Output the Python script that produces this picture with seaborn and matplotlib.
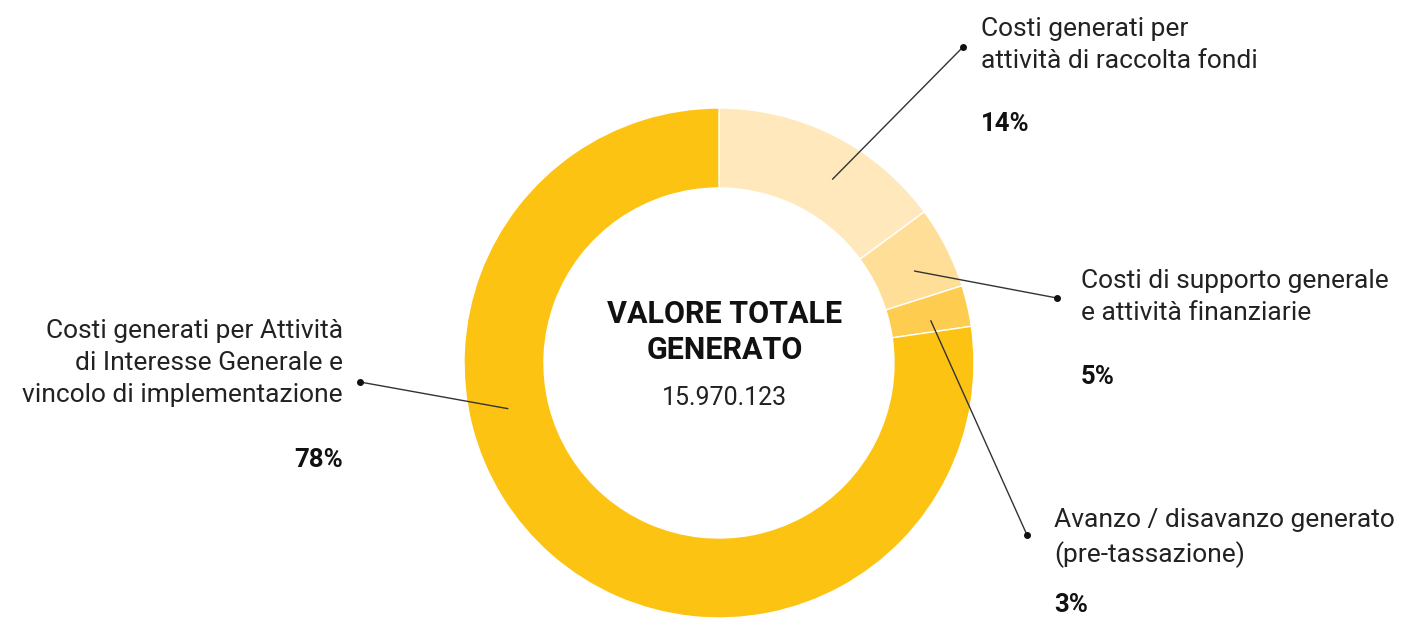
import numpy as np
import matplotlib
matplotlib.use("Agg")
import matplotlib.pyplot as plt
import seaborn as sns

categories = [
    "Costi generati per\nattività di raccolta fondi",
    "Costi di supporto generale\ne attività finanziarie",
    "Avanzo / disavanzo generato\n(pre-tassazione)",
    "Costi generati per Attività\ndi Interesse Generale e\nvincolo di implementazione",
]
shares = [14.9, 5.2, 2.6, 77.3]
pct_labels = ["14%", "5%", "3%", "78%"]
total_title = "VALORE TOTALE\nGENERATO"
total_value = "15.970.123"

colors = ["#FFE8BB", "#FFDE98", "#FECD4F", "#FDC313"]

sns.set_theme(style="white")
plt.rcParams["font.family"] = ["Roboto", "DejaVu Sans"]

W, H = 1401, 621
fig = plt.figure(figsize=(W / 100, H / 100), dpi=100)
ax = fig.add_axes([0, 0, 1, 1])

cx, cy = 719, H - 363
R = 255
ring = 80

ax.pie(shares, colors=colors, startangle=90, counterclock=False,
       radius=R, center=(cx, cy), frame=True,
       wedgeprops=dict(width=ring, edgecolor="white", linewidth=1))
ax.set_xlim(0, W)
ax.set_ylim(0, H)
ax.set_aspect("equal")
ax.axis("off")

# label layout: anchor angle inside ring (deg, clockwise from top), dot position, text position
anchor_ang = [31.7, 64.8, 78.7, 257.8]
anchor_r = 216
dots = [(963, 47), (1057, 298), (1027, 535), (360, 382)]
text_pos = [(981, 27), (1081, 279), (1054, 520), (343, 327)]
pct_pos = [(981, 124), (1081, 377), (1054, 605), (343, 460)]
aligns = ["left", "left", "left", "right"]

for i in range(len(shares)):
    a = np.deg2rad(anchor_ang[i])
    x0 = cx + anchor_r * np.sin(a)
    y0 = cy + anchor_r * np.cos(a)
    dx, dy = dots[i]
    ax.plot([x0, dx], [y0, H - dy], color="#333333", lw=1)
    ax.plot(dx, H - dy, "o", color="#111111", ms=4)
    tx, ty = text_pos[i]
    nlines = categories[i].count("\n") + 1
    # block centred so that its first line sits at ty, lines 36 px apart
    ax.text(tx, H - ty - 18 * (nlines - 1), categories[i], ha=aligns[i], va="center",
            fontsize=19, color="#222222", linespacing=1.44)
    px, py = pct_pos[i]
    ax.text(px, H - py, pct_labels[i], ha=aligns[i], va="center", fontsize=18.5,
            color="#111111", fontweight="bold")

ax.text(725, H - 332, total_title, ha="center", va="center", fontsize=22,
        fontweight="bold", color="#111111", linespacing=1.22)
ax.text(725, H - 398, total_value, ha="center", va="center", fontsize=18,
        color="#222222")

fig.savefig("out.png", dpi=100, facecolor="white")
